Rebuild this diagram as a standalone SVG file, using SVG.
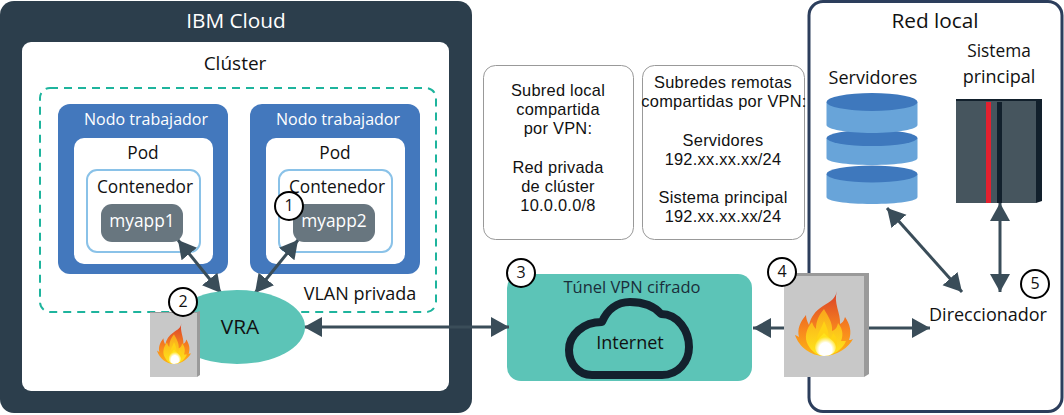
<svg xmlns="http://www.w3.org/2000/svg" width="1064" height="415" viewBox="0 0 1064 415">
<style>
text{font-family:"Open Sans","Noto Sans","Liberation Sans",sans-serif;fill:#111;text-anchor:middle}
.t17{font-size:17.300px}.t16{font-size:16px}.t18{font-size:18px}.t19{font-size:19px}.t21{font-size:20.800px}
.t15{font-family:"Liberation Sans",Arial,sans-serif;font-size:16.400px;letter-spacing:.25px}
.light{fill:#fff}
.node{fill:#4378bd}.pod{fill:#fff}.cont{fill:#fff;stroke:#8ac2e8;stroke-width:2}.app{fill:#68767f}
.note{fill:#fff;stroke:#999;stroke-width:1}
.badge{fill:#fff;stroke:#000;stroke-width:2}
.con{stroke:#3a4d59;stroke-width:3;fill:none;marker-end:url(#ah);marker-start:url(#ah)}
.one{stroke:#3a4d59;stroke-width:3;fill:none;marker-end:url(#ah)}
.disk{fill:#68a4d9}.top{fill:#3e78bd}
</style>
<defs>
<marker id="ah" markerUnits="userSpaceOnUse" markerWidth="20" markerHeight="22" refX="18" refY="10" orient="auto-start-reverse" viewBox="0 0 20 20"><path d="M0 0L18 10L0 20z" fill="#3a4d59"/></marker>
<linearGradient id="f1" x1="0" y1="0" x2="0" y2="1"><stop offset="0" stop-color="#d9402a"/><stop offset=".6" stop-color="#f8861e"/><stop offset="1" stop-color="#fdb515"/></linearGradient>
<linearGradient id="f2" x1="0" y1="0" x2="0" y2="1"><stop offset="0" stop-color="#f9a51c"/><stop offset="1" stop-color="#ffe81a"/></linearGradient>
<radialGradient id="f3" cx=".5" cy=".72" r=".55"><stop offset="0" stop-color="#fff"/><stop offset=".55" stop-color="#fff"/><stop offset="1" stop-color="#ffe21a"/></radialGradient>
<symbol id="flame" viewBox="0 0 58 65" preserveAspectRatio="none">
<path fill="url(#f1)" d="M42 0C40 8 36 10 28 15C20 20 16 26 14 34C12 30 11 27 11 24C5 31 2 38 4 46C2 45 1 44 0 44C4 56 16 65 29 65C42 65 54 56 58 48C56 49 55 49 54 49C57 41 55 33 50 26C49 30 47 32 45 33C46 22 38 12 42 0z"/>
<path fill="url(#f2)" d="M29 18C24 24 21 30 21 38C19 36 18 34 17 31C11 38 9 47 13 54C17 61 23 65 29 65C38 65 48 58 51 50C49 50 48 50 46 50C49 43 47 37 43 32C42 37 40 39 37 40C38 32 33 25 29 18z"/>
<path fill="#ffd215" d="M29 30C27 36 24 40 22 46C20 54 24 65 29 65C36 65 42 60 42 51C42 47 40 44 38 42C37 46 36 47 34 48C34 42 32 36 29 30z"/>
<path fill="url(#f3)" d="M29 42C26 46 20 50 20 56C20 61 24 65 29 65C35 65 41 62 41 56C41 50 33 47 29 42z"/>
</symbol>
</defs>

<g id="ibm-cloud">
<rect x="0" y="1" width="472" height="412" rx="14" fill="#2c3e4c"/>
<text x="236" y="28" class="t21 light">IBM Cloud</text>
<rect x="22" y="42" width="427" height="349" rx="9" fill="#fff"/>
</g>
<g id="cluster">
<text x="235" y="70" class="t19">Clúster</text>
<rect x="40" y="88" width="396" height="224" rx="10" fill="none" stroke="#1eb49d" stroke-width="2" stroke-dasharray="8 6"/>
<text x="360" y="300" class="t18">VLAN privada</text>
</g>
<g id="worker1">
<rect class="node" x="58" y="104" width="170" height="170" rx="12"/>
<text x="146" y="125" class="t16 light">Nodo trabajador</text>
<rect class="pod" x="74" y="138" width="139" height="126" rx="10"/>
<text x="143" y="159" class="t17">Pod</text>
<rect class="cont" x="87" y="170" width="113" height="82" rx="10"/>
<text x="145" y="193" class="t17">Contenedor</text>
<rect class="app" x="101" y="204" width="82" height="38" rx="11"/>
<text x="142" y="227" class="t17 light">myapp1</text>
</g>
<g id="worker2">
<rect class="node" x="250" y="104" width="170" height="170" rx="12"/>
<text x="338" y="125" class="t16 light">Nodo trabajador</text>
<rect class="pod" x="266" y="138" width="139" height="126" rx="10"/>
<text x="335" y="159" class="t17">Pod</text>
<rect class="cont" x="279" y="170" width="113" height="82" rx="10"/>
<text x="337" y="193" class="t17">Contenedor</text>
<rect class="app" x="293" y="204" width="82" height="38" rx="11"/>
<text x="334" y="227" class="t17 light">myapp2</text>
</g>
<g id="notes">
<rect class="note" x="483.500" y="65.500" width="150" height="174" rx="12"/>
<text class="t15" x="558" y="96">Subred local</text>
<text class="t15" x="558" y="115">compartida</text>
<text class="t15" x="558" y="134">por VPN:</text>
<text class="t15" x="558" y="173">Red privada</text>
<text class="t15" x="558" y="192">de clúster</text>
<text class="t15" x="558" y="211">10.0.0.0/8</text>
<rect class="note" x="642.500" y="65.500" width="162" height="174" rx="12"/>
<text class="t15" x="723" y="88">Subredes remotas</text>
<text class="t15" x="724" y="107">compartidas por VPN:</text>
<text class="t15" x="723" y="146">Servidores</text>
<text class="t15" x="723" y="165">192.xx.xx.xx/24</text>
<text class="t15" x="723" y="203">Sistema principal</text>
<text class="t15" x="723" y="222">192.xx.xx.xx/24</text>
</g>
<g id="red-local">
<rect x="809" y="1.500" width="253" height="410" rx="14" fill="#fff" stroke="#2c3e5c" stroke-width="3"/>
<text x="935" y="28" class="t21">Red local</text>
</g>
<g id="servidores">
<text x="873" y="84" class="t18">Servidores</text>
<path class="disk" d="M826.500 174V197C826.500 201 846 204 872 204C898 204 917.500 201 917.500 197V174z"/>
<ellipse class="top" cx="872" cy="174" rx="45.500" ry="8.500"/>
<path class="disk" d="M826.500 138V158C826.500 162 846 165 872 165C898 165 917.500 162 917.500 158V138z"/>
<ellipse class="top" cx="872" cy="138" rx="45.500" ry="8"/>
<path class="disk" d="M826.500 102V125C826.500 129 846 133 872 133C898 133 917.500 129 917.500 125V102z"/>
<ellipse class="top" cx="872" cy="102" rx="45.500" ry="9"/>
</g>
<g id="sistema-principal">
<text x="999" y="57" class="t17">Sistema</text>
<text x="999" y="83" class="t18">principal</text>
<path d="M956 99H1042V201L1036 203H956z" fill="#12202c"/>
<rect x="956" y="101" width="80" height="102" fill="#46555e"/>
<rect x="986" y="102" width="5" height="101" fill="#e3202f"/>
<rect x="997" y="102" width="5" height="101" fill="#12202c"/>
</g>
<g id="tunnel">
<rect x="507" y="274" width="245" height="107" rx="14" fill="#5cc4b7"/>
<text x="632" y="293" class="t16" style="font-size:16.500px;fill:#1a2e3a">Túnel VPN cifrado</text>
<path d="M592 375C578 375 569 363 569 350C569 335 583 322 602 322C607 310 617 302 630 302C645 302 655 307 661 314C678 314 689 331 689 347C689 362 678 375 662 375z" fill="#5cc4b7" stroke="#13212d" stroke-width="8" stroke-linejoin="round"/>
<text x="630" y="349" class="t18">Internet</text>
</g>
<g id="connectors">
<line class="con" x1="178" y1="240" x2="221" y2="293"/>
<line class="con" x1="298" y1="240" x2="255" y2="293"/>
<line class="con" x1="304" y1="327" x2="509" y2="327"/>
<line class="one" x1="785" y1="328" x2="753" y2="328"/>
<line class="one" x1="868" y1="328" x2="930" y2="328"/>
<line class="con" x1="887" y1="208" x2="962" y2="292"/>
<line class="con" x1="1000" y1="203" x2="1000" y2="292"/>
</g>
<g id="vra">
<ellipse cx="237" cy="327" rx="68" ry="37" fill="#5cc4b7"/>
<text x="240" y="334" class="t21">VRA</text>
</g>
<g id="firewall-vra">
<path d="M150 312H197L200 311V375L197 377H150z" fill="#9a9a9a"/>
<rect x="150" y="313" width="47" height="64" fill="#c8c8c8"/>
<use href="#flame" x="157" y="323" width="34" height="41"/>
</g>
<g id="firewall-vpn">
<path d="M784 273H869V374L864 377H784z" fill="#9a9a9a"/>
<rect x="784" y="276" width="80" height="101" fill="#c8c8c8"/>
<use href="#flame" x="795" y="291" width="58" height="65"/>
</g>
<g id="router">
<text x="988" y="321" class="t18">Direccionador</text>
</g>
<g id="badges">
<circle class="badge" cx="289" cy="206" r="14"/><text x="289" y="211" class="t16">1</text>
<circle class="badge" cx="183" cy="302" r="14"/><text x="183" y="307" class="t16">2</text>
<circle class="badge" cx="521" cy="273" r="14"/><text x="521" y="278" class="t16">3</text>
<circle class="badge" cx="782" cy="272" r="14"/><text x="782" y="277" class="t16">4</text>
<circle class="badge" cx="1035" cy="284" r="14"/><text x="1035" y="289" class="t16">5</text>
</g>
</svg>
